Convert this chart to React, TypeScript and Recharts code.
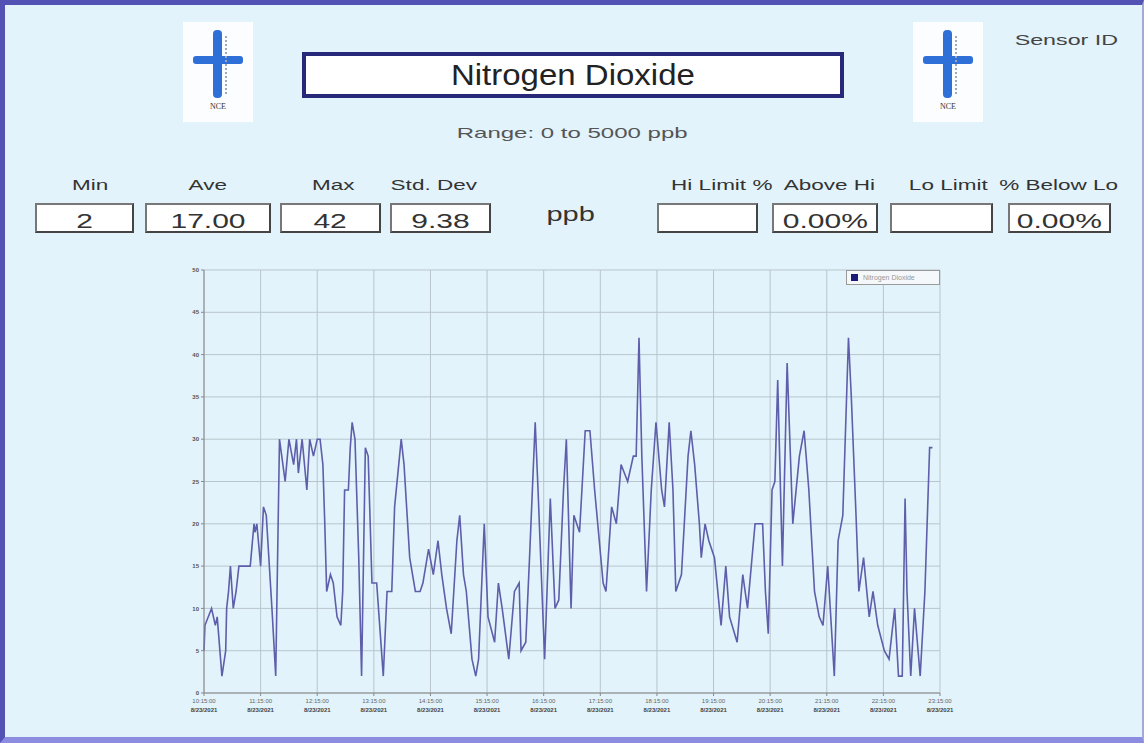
import React from 'react'
import { LineChart, Line, XAxis, YAxis, CartesianGrid, Legend } from 'recharts'

// minutes since first reading
const minutes = [
  0, 1, 8, 12, 14, 19, 23, 24, 26, 28, 31, 34, 37, 49, 53, 54, 56, 60, 63, 66,
  72, 76, 80, 86, 90, 95, 98, 100, 104, 109, 112, 116, 120, 123, 126, 128, 130, 134, 137, 141,
  145, 147, 149, 153, 155, 157, 160, 164, 167, 171, 174, 178, 183, 190,
  194, 199, 202, 209, 212, 218, 224, 229, 232, 238, 243, 248, 252, 257, 262, 268, 271, 275, 278, 284,
  288, 291, 297, 301, 308, 312, 316, 323, 329, 334, 336, 341, 345, 351, 354, 361, 367, 372, 376, 381, 384,
  389, 392, 398, 404, 409, 414, 423, 426, 432, 437, 442, 449, 455, 458, 461, 464, 469, 474, 479, 485,
  488, 493, 497, 500, 506, 513, 516, 520, 525, 527, 531, 535, 541, 548, 553, 557, 565, 571, 576,
  584, 592, 595, 598, 602, 605, 608, 613, 618, 624, 631, 636, 641, 647, 652, 656, 661, 668, 672, 677,
  683, 686, 691, 694, 699, 705, 709, 714, 721, 726, 732, 736, 740, 743, 745, 749, 753, 759, 764, 769, 772,
]

// NO2 readings, ppb
const no2 = [
  5, 8, 10, 8, 9, 2, 5, 10, 12, 15, 10, 12, 15, 15, 20, 19, 20, 15, 22, 21,
  10, 2, 30, 25, 30, 27, 30, 26, 30, 24, 30, 28, 30, 30, 27, 20, 12, 14, 13, 9,
  8, 12, 24, 24, 29, 32, 30, 16, 2, 29, 28, 13, 13, 2,
  12, 12, 22, 30, 27, 16, 12, 12, 13, 17, 14, 18, 14, 10, 7, 18, 21, 14, 12, 4,
  2, 4, 20, 9, 6, 13, 10, 4, 12, 13, 5, 6, 16, 32, 24, 4, 23, 10, 11, 24, 30,
  10, 21, 19, 31, 31, 24, 13, 12, 22, 20, 27, 25, 28, 28, 42, 28, 12, 24, 32, 24,
  22, 32, 24, 12, 14, 28, 31, 27, 20, 16, 20, 18, 16, 8, 15, 9, 6, 14, 10,
  20, 20, 12, 7, 24, 25, 37, 15, 39, 20, 28, 31, 24, 12, 9, 8, 15, 2, 18, 21,
  42, 35, 21, 12, 16, 9, 12, 8, 5, 4, 10, 2, 2, 23, 12, 2, 10, 2, 12, 29, 29,
]

const xTicks = [0, 60, 120, 180, 240, 300, 360, 420, 480, 540, 600, 660, 720, 780]
const xTimeLabels = [
  '10:15:00', '11:15:00', '12:15:00', '13:15:00', '14:15:00', '15:15:00', '16:15:00',
  '17:15:00', '18:15:00', '19:15:00', '20:15:00', '21:15:00', '22:15:00', '23:15:00',
]
const xDateLabel = '8/23/2021'
const yTicks = [0, 5, 10, 15, 20, 25, 30, 35, 40, 45, 50]

const data = minutes.map((t, i) => ({ t, value: no2[i] }))

const font = '"Liberation Sans", Arial, sans-serif'

// the source display renders its text horizontally stretched
function Wide({ k, children }: { k: number; children: React.ReactNode }) {
  return <span style={{ display: 'inline-block', transform: `scaleX(${k})`, transformOrigin: 'center' }}>{children}</span>
}

function TimeTick({ x, y, payload }: { x?: number; y?: number; payload?: { value: number } }) {
  const idx = xTicks.indexOf(payload?.value ?? -1)
  return (
    <g>
      <text x={x} y={(y ?? 0) + 5} textAnchor="middle" fontSize={6} fill="#666" fontFamily={font}>
        {xTimeLabels[idx]}
      </text>
      <text x={x} y={(y ?? 0) + 14} textAnchor="middle" fontSize={6} fill="#444" fontFamily={font} fontWeight="bold">
        {xDateLabel}
      </text>
    </g>
  )
}

function LegendBox() {
  return (
    <div
      style={{
        display: 'flex',
        alignItems: 'center',
        gap: 5,
        width: 84,
        background: '#f4f8fa',
        border: '1px solid #999',
        padding: '3px 4px',
        fontFamily: font,
        fontSize: 7,
        color: '#999',
      }}
    >
      <span style={{ width: 7, height: 7, background: '#1a1a7a', display: 'inline-block' }} />
      Nitrogen Dioxide
    </div>
  )
}

function Logo({ left }: { left: number }) {
  return (
    <div style={{ position: 'absolute', left, top: 22, width: 70, height: 100, background: '#fbfdfe' }}>
      <div style={{ position: 'absolute', left: 30, top: 8, width: 9, height: 68, background: '#2f6fd8', borderRadius: 4 }} />
      <div style={{ position: 'absolute', left: 10, top: 34, width: 50, height: 8, background: '#2f6fd8', borderRadius: 3 }} />
      <div style={{ position: 'absolute', left: 42, top: 14, width: 10, height: 58, borderLeft: '2px dotted #9ab' }} />
      <div
        style={{
          position: 'absolute',
          left: 0,
          width: 70,
          top: 80,
          textAlign: 'center',
          fontSize: 8,
          fontFamily: '"Liberation Serif", serif',
          color: '#333',
        }}
      >
        NCE
      </div>
    </div>
  )
}

function StatLabel({ center, text }: { center: number; text: string }) {
  return (
    <div
      style={{
        position: 'absolute',
        left: center - 80,
        width: 160,
        top: 176,
        textAlign: 'center',
        fontSize: 15,
        color: '#333',
        fontFamily: font,
        whiteSpace: 'nowrap',
      }}
    >
      <Wide k={1.5}>{text}</Wide>
    </div>
  )
}

function StatBox({ left, width, value }: { left: number; width: number; value: string }) {
  return (
    <div
      style={{
        position: 'absolute',
        left,
        top: 203,
        width,
        height: 30,
        boxSizing: 'border-box',
        background: '#fff',
        borderTop: '2px solid #777',
        borderLeft: '2px solid #777',
        borderRight: '2px solid #444',
        borderBottom: '2px solid #444',
        overflow: 'hidden',
        textAlign: 'center',
        fontSize: 20,
        lineHeight: '33px',
        color: '#333',
        fontFamily: font,
      }}
    >
      <Wide k={1.5}>{value}</Wide>
    </div>
  )
}

export default function App() {
  return (
    <div
      style={{
        position: 'relative',
        width: 1144,
        height: 743,
        boxSizing: 'border-box',
        background: '#e2f3fb',
        borderTop: '5px solid #5252b4',
        borderLeft: '5px solid #5252b4',
        borderRight: '2px solid #a8a8d8',
        borderBottom: '6px solid #8c8ce0',
        overflow: 'hidden',
        fontFamily: font,
      }}
    >
      <style>{'body{margin:0}'}</style>
      <div style={{ position: 'absolute', left: -5, top: -5, width: 1144, height: 743 }}>
        <Logo left={183} />
        <Logo left={913} />

        <div
          style={{
            position: 'absolute',
            left: 302,
            top: 52,
            width: 542,
            height: 46,
            boxSizing: 'border-box',
            background: '#fff',
            border: '4px solid #28287a',
            textAlign: 'center',
            fontSize: 30,
            lineHeight: '38px',
            color: '#222',
          }}
        >
          <Wide k={1.1}>Nitrogen Dioxide</Wide>
        </div>
        <div style={{ position: 'absolute', left: 422, width: 300, top: 124, textAlign: 'center', fontSize: 15, color: '#555' }}>
          <Wide k={1.6}>Range: 0 to 5000 ppb</Wide>
        </div>
        <div style={{ position: 'absolute', left: 1016, width: 100, top: 31, textAlign: 'center', fontSize: 15, color: '#444' }}>
          <Wide k={1.55}>Sensor ID</Wide>
        </div>

        <StatLabel center={90} text="Min" />
        <StatLabel center={208} text="Ave" />
        <StatLabel center={333} text="Max" />
        <StatLabel center={434} text="Std. Dev" />
        <StatLabel center={722} text="Hi Limit %" />
        <StatLabel center={829} text="Above Hi" />
        <StatLabel center={948} text="Lo Limit" />
        <StatLabel center={1059} text="% Below Lo" />

        <StatBox left={35} width={99} value="2" />
        <StatBox left={145} width={126} value="17.00" />
        <StatBox left={280} width={101} value="42" />
        <StatBox left={390} width={101} value="9.38" />
        <div style={{ position: 'absolute', left: 521, width: 100, textAlign: 'center', top: 203, fontSize: 20, color: '#333' }}>
          <Wide k={1.45}>ppb</Wide>
        </div>
        <StatBox left={657} width={101} value="" />
        <StatBox left={772} width={106} value="0.00%" />
        <StatBox left={890} width={103} value="" />
        <StatBox left={1008} width={103} value="0.00%" />

        <div style={{ position: 'absolute', left: 160, top: 255 }}>
          <LineChart width={800} height={483} data={data} margin={{ top: 15, right: 20, bottom: 5, left: 0 }}>
            <CartesianGrid stroke="#b9c5cc" strokeWidth={1} />
            <XAxis
              dataKey="t"
              type="number"
              domain={[0, 780]}
              ticks={xTicks}
              height={40}
              tick={<TimeTick />}
              tickSize={3}
              tickLine={{ stroke: '#888' }}
              axisLine={{ stroke: '#888' }}
              interval={0}
            />
            <XAxis
              xAxisId="top"
              orientation="top"
              type="number"
              domain={[0, 780]}
              height={0}
              tick={false}
              tickLine={false}
              axisLine={{ stroke: '#777', strokeWidth: 1.5 }}
            />
            <YAxis
              type="number"
              domain={[0, 50]}
              ticks={yTicks}
              width={44}
              tickSize={3}
              tickLine={{ stroke: '#888' }}
              axisLine={{ stroke: '#888' }}
              tick={{ fontSize: 6, fill: '#555', fontFamily: font, fontWeight: 'bold' }}
            />
            <YAxis
              yAxisId="right"
              orientation="right"
              type="number"
              domain={[0, 50]}
              width={0}
              tick={false}
              tickLine={false}
              axisLine={{ stroke: '#777', strokeWidth: 1.5 }}
            />
            <Legend
              layout="vertical"
              verticalAlign="middle"
              align="center"
              content={<LegendBox />}
              wrapperStyle={{ top: 15, right: 20, left: 'auto', width: 'auto' }}
            />
            <Line
              type="linear"
              dataKey="value"
              name="Nitrogen Dioxide"
              stroke="#5e5eaa"
              strokeWidth={1.6}
              dot={false}
              isAnimationActive={false}
            />
          </LineChart>
        </div>
      </div>
    </div>
  )
}
